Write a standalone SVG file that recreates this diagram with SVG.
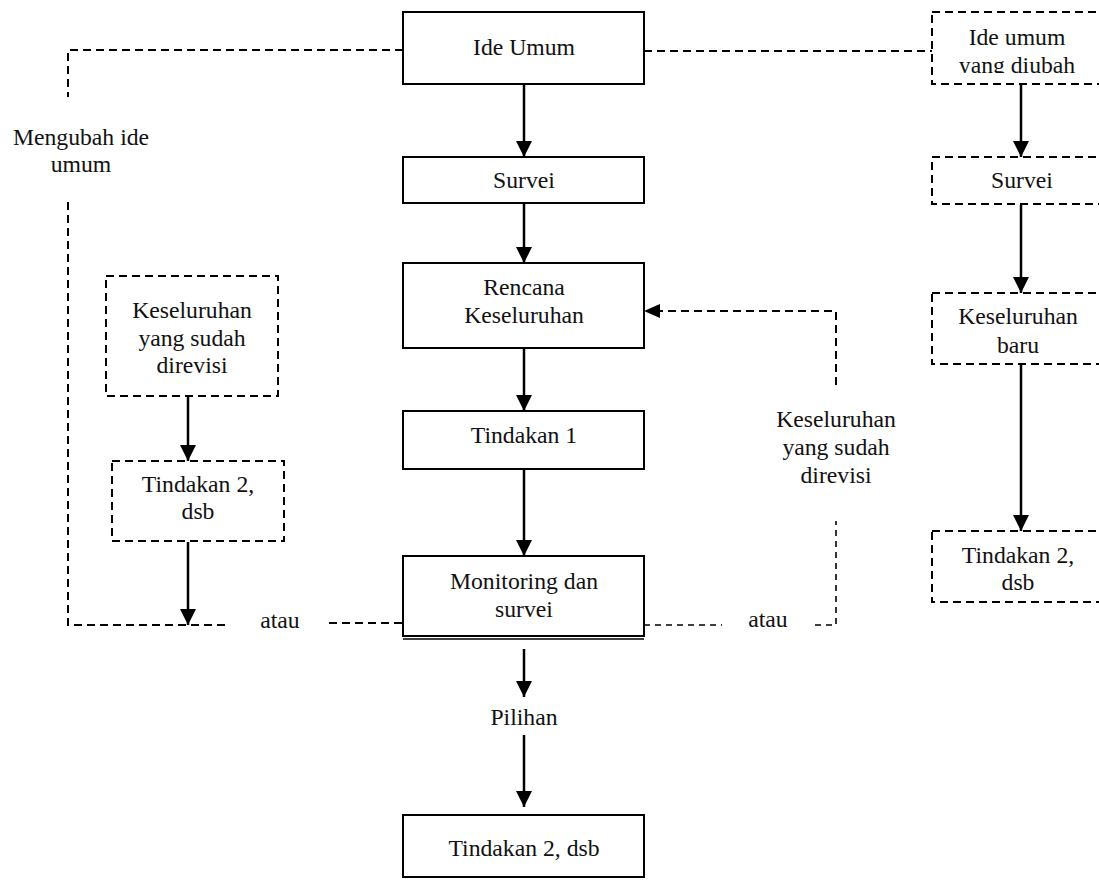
<svg xmlns="http://www.w3.org/2000/svg" width="1099" height="880" viewBox="0 0 1099 880">
<style>
text{font-family:'Liberation Serif','Times New Roman',Tinos,'DejaVu Serif',serif;font-size:23.7px;fill:#111;text-anchor:middle}
.box{fill:#fff;stroke:#000;stroke-width:2}
.dbox{fill:#fff;stroke:#000;stroke-width:2;stroke-dasharray:8 5}
.arr{stroke:#000;stroke-width:2.5;fill:none;marker-end:url(#ah)}
.dl{stroke:#000;stroke-width:2;fill:none;stroke-dasharray:8 5}
.dl2{stroke:#000;stroke-width:1.6;fill:none;stroke-dasharray:6 5}
</style>
<defs>
<marker id="ah" markerUnits="userSpaceOnUse" markerWidth="16" markerHeight="16" viewBox="0 0 16 16" refX="16" refY="8" orient="auto">
<path d="M0,0 L16,8 L0,16 Z" fill="#000"/>
</marker>
<clipPath id="clipR"><rect x="932" y="12" width="200" height="61"/></clipPath>
</defs>
<rect width="1099" height="880" fill="#fff"/>
<g id="connectors">
<path class="dl" d="M403,50 H68 V97"/>
<path class="dl" d="M68,202 V625 H229"/>
<path class="dl" d="M329,623 H403"/>
<path class="dl" d="M644,51 H932"/>
<path class="dl2" d="M644,625 H722"/>
<path class="dl2" d="M815,625 H836 V521"/>
<path class="dl" d="M836,385 V311 H660"/>
<path d="M660,304 L644,311 L660,318 Z" fill="#000"/>
<line class="arr" x1="524" y1="85" x2="524" y2="157"/>
<line class="arr" x1="524" y1="204" x2="524" y2="263"/>
<line class="arr" x1="524" y1="349" x2="524" y2="411"/>
<line class="arr" x1="524" y1="470" x2="524" y2="556"/>
<line class="arr" x1="524" y1="649" x2="524" y2="697"/>
<line class="arr" x1="524" y1="735" x2="524" y2="807"/>
<line class="arr" x1="188" y1="397" x2="188" y2="461"/>
<line class="arr" x1="188" y1="542" x2="188" y2="625"/>
<line class="arr" x1="1021" y1="85" x2="1021" y2="157"/>
<line class="arr" x1="1021" y1="205" x2="1021" y2="293"/>
<line class="arr" x1="1021" y1="365" x2="1021" y2="531"/>
</g>
<g id="ide-umum"><rect class="box" x="403" y="12" width="241" height="72"/><text x="524" y="55">Ide Umum</text></g>
<g id="survei"><rect class="box" x="403" y="157" width="241" height="46"/><text x="524" y="188">Survei</text></g>
<g id="rencana"><rect class="box" x="403" y="263" width="241" height="85"/><text x="524" y="295">Rencana</text><text x="524" y="323">Keseluruhan</text></g>
<g id="tindakan1"><rect class="box" x="403" y="411" width="241" height="58"/><text x="524" y="443">Tindakan 1</text></g>
<g id="monitoring"><rect class="box" x="403" y="556" width="241" height="80"/><line x1="403" y1="639" x2="644" y2="639" stroke="#000" stroke-width="1.5"/><text x="524" y="589">Monitoring dan</text><text x="524" y="617">survei</text></g>
<g id="pilihan"><text x="524" y="725">Pilihan</text></g>
<g id="tindakan2-main"><rect class="box" x="403" y="815" width="241" height="62"/><text x="524" y="856">Tindakan 2, dsb</text></g>
<g id="mengubah"><text x="81" y="145">Mengubah ide</text><text x="81" y="172">umum</text></g>
<g id="left-keseluruhan"><rect class="dbox" x="106" y="276" width="172" height="120"/><text x="192" y="318">Keseluruhan</text><text x="192" y="346">yang sudah</text><text x="192" y="373">direvisi</text></g>
<g id="left-tindakan2"><rect class="dbox" x="112" y="461" width="172" height="80"/><text x="198" y="492">Tindakan 2,</text><text x="198" y="519">dsb</text></g>
<g id="atau-left"><text x="280" y="628">atau</text></g>
<g id="atau-right"><text x="768" y="627">atau</text></g>
<g id="right-label"><text x="836" y="427">Keseluruhan</text><text x="836" y="455">yang sudah</text><text x="836" y="483">direvisi</text></g>
<g id="ide-diubah"><rect class="dbox" x="932" y="12" width="200" height="72"/><text x="1017" y="45">Ide umum</text><text x="1017" y="73" clip-path="url(#clipR)">yang diubah</text></g>
<g id="survei-right"><rect class="dbox" x="932" y="157" width="200" height="47"/><text x="1022" y="188">Survei</text></g>
<g id="keseluruhan-baru"><rect class="dbox" x="932" y="293" width="200" height="71"/><text x="1018" y="324">Keseluruhan</text><text x="1018" y="353">baru</text></g>
<g id="tindakan2-right"><rect class="dbox" x="932" y="531" width="200" height="71"/><text x="1018" y="563">Tindakan 2,</text><text x="1018" y="590">dsb</text></g>
</svg>
